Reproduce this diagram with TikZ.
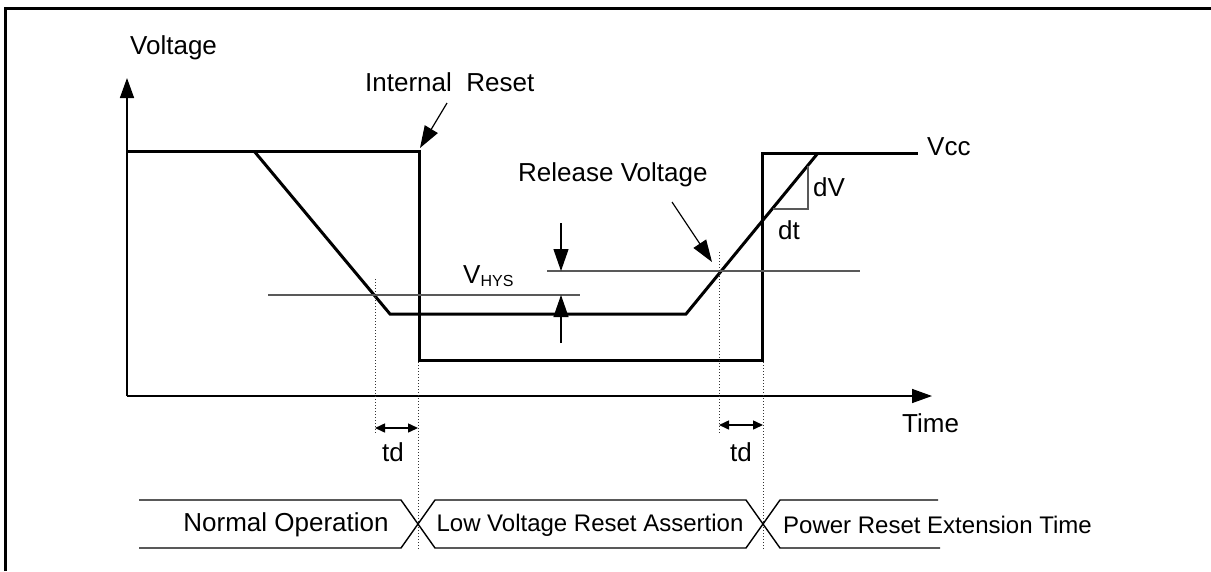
\documentclass[tikz,border=0pt]{standalone}
\usepackage{fontspec}
\setmainfont{Liberation Sans}
\usetikzlibrary{arrows.meta}
\begin{document}
\begin{tikzpicture}[x=1pt,y=-1pt,
  lbl/.style={inner sep=0pt,font=\fontsize{26}{30}\selectfont},
  blbl/.style={inner sep=0pt,font=\fontsize{24}{28}\selectfont},
  sig/.style={line width=3pt,line join=miter},
  axis/.style={line width=1.5pt,-{Triangle[length=20pt,width=14pt]}},
  thin/.style={line width=1.3pt,draw=black!65},
  dotv/.style={line width=1pt,dotted,draw=black!80},
  bigarrow/.style={line width=1.2pt,-{Triangle[length=22pt,width=15pt]}},
  tdarrow/.style={line width=1.5pt,{Triangle[length=10pt,width=9pt]}-{Triangle[length=10pt,width=9pt]}},
  bub/.style={line width=1.4pt}]
\useasboundingbox (0,0) rectangle (1211,571);
% frame
\draw[line width=3pt] (5,571) -- (5,8.5) -- (1211,8.5);
% axes
\coordinate (O) at (127,396);
\coordinate (Vtip) at (127,78);
\coordinate (Ttip) at (932,396);
\draw[axis] (O) -- (Vtip);
\draw[axis] (O) -- (Ttip);
% labels
\node[lbl,anchor=west] (voltage) at (130,48) {Voltage};
\node[lbl,anchor=west] (time) at (902,423) {Time};
\node[lbl,anchor=west] (intreset) at (365,82) {Internal\ \ Reset};
\node[lbl,anchor=west] (release) at (518,175) {Release Voltage};
\node[lbl,anchor=west] (vcc) at (927,147) {Vcc};
\node[lbl,anchor=west] (dv) at (813,187) {dV};
\node[lbl,anchor=west] (dt) at (778,230) {dt};
\node[lbl,anchor=base west] (vhys) at (463,283) {V\raisebox{-3pt}{\fontsize{16}{18}\selectfont HYS}};
\node[lbl] (td1) at (393,452) {td};
\node[lbl] (td2) at (741,452) {td};
% internal reset signal
\coordinate (r0) at (127,151);
\coordinate (r1) at (419,151);
\coordinate (r2) at (419,360);
\coordinate (r3) at (762,360);
\coordinate (r4) at (762,153);
\coordinate (r5) at (918,153);
\draw[sig] (r0) -- (r1) -- (r2) -- (r3) -- (r4) -- (r5);
% supply voltage
\coordinate (s0) at (254,151);
\coordinate (s1) at (390,314);
\coordinate (s2) at (686,314);
\coordinate (s3) at (818,153);
\draw[sig] (s0) -- (s1) -- (s2) -- (s3);
% thresholds
\coordinate (lo0) at (268,295);
\coordinate (lo1) at (580,295);
\coordinate (hi0) at (547,271);
\coordinate (hi1) at (860,271);
\draw[thin] (lo0) -- (lo1);
\draw[thin] (hi0) -- (hi1);
% dV dt triangle
\coordinate (tr0) at (808,166);
\coordinate (tr1) at (808,209);
\coordinate (tr2) at (773,209);
\draw[thin] (tr0) -- (tr1) -- (tr2);
% VHYS arrows
\coordinate (h0) at (561,223);
\coordinate (h1) at (561,271);
\coordinate (h2) at (561,343);
\coordinate (h3) at (561,295);
\draw[bigarrow] (h0) -- (h1);
\draw[bigarrow] (h2) -- (h3);
% pointer arrows
\coordinate (ir0) at (447,103);
\coordinate (ir1) at (420,148);
\draw[bigarrow] (ir0) -- (ir1);
\coordinate (rv0) at (672,202);
\coordinate (rv1) at (712,262);
\draw[bigarrow] (rv0) -- (rv1);
% dotted verticals
\coordinate (d1a) at (375,279); \coordinate (d1b) at (375,433);
\coordinate (d2a) at (418,362); \coordinate (d2b) at (418,550);
\coordinate (d3a) at (719,252); \coordinate (d3b) at (719,433);
\coordinate (d4a) at (763,362); \coordinate (d4b) at (763,550);
\draw[dotv] (d1a) -- (d1b);
\draw[dotv] (d2a) -- (d2b);
\draw[dotv] (d3a) -- (d3b);
\draw[dotv] (d4a) -- (d4b);
% td arrows
\coordinate (ta0) at (375,428); \coordinate (ta1) at (418,428);
\coordinate (tb0) at (719,425); \coordinate (tb1) at (763,425);
\draw[tdarrow] (ta0) -- (ta1);
\draw[tdarrow] (tb0) -- (tb1);
% state bubbles
\draw[bub] (139,500) -- (401,500) -- (435,548) -- (746,548) -- (780,500) -- (938,500);
\draw[bub] (139,548) -- (401,548) -- (435,500) -- (746,500) -- (780,548) -- (940,548);
\node[lbl] (normal) at (286,525) {Normal Operation};
\node[blbl] (lvr) at (590,525) {Low Voltage Reset Assertion};
\node[blbl,anchor=west] (pre) at (783,525) {Power Reset Extension Time};
\end{tikzpicture}
\end{document}
